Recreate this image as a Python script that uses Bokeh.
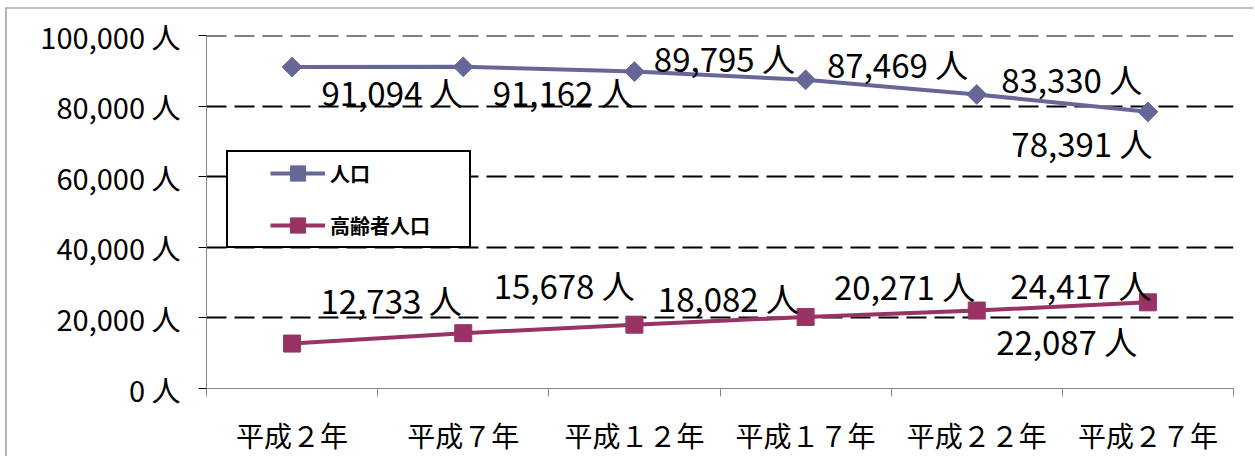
import numpy as np
from bokeh.plotting import figure
from bokeh.models import Range1d, FixedTicker, Legend, LegendItem
from bokeh.core.properties import value
from bokeh.embed import file_html
from bokeh.resources import INLINE

# ---- data ----
categories = ["平成２年", "平成７年", "平成１２年", "平成１７年", "平成２２年", "平成２７年"]
population = [91094, 91162, 89795, 87469, 83330, 78391]
elderly = [12733, 15678, 18082, 20271, 22087, 24417]
y_ticks = [0, 20000, 40000, 60000, 80000, 100000]
series_names = ["人口", "高齢者人口"]

# ---- label placement (screen px offsets from each point) ----
pop_dx = [100, 100, 90, 92, 95, -66]
pop_dy = [25, 25, -14, -16, -15, 31]
eld_dx = [99, 101, 94, 99, 90, -67]
eld_dy = [-44, -48, -27, -31, 30, -17]

FONT = "Noto Sans CJK JP"
POP_COLOR = "#666699"
ELD_COLOR = "#993366"
AXIS_GRAY = "#868686"

xs = list(range(len(categories)))

p = figure(width=1248, height=449, output_backend="svg", toolbar_location=None,
           x_range=Range1d(-0.5, len(categories) - 0.5),
           y_range=Range1d(y_ticks[0], y_ticks[-1] + 30),
           min_border_left=199, min_border_right=22,
           min_border_top=26, min_border_bottom=70)
p.styles = {"margin-left": "5px", "margin-top": "7px",
            "border-top": "2px solid #c0c0c0", "border-left": "2px solid #b4b4b4"}
p.outline_line_color = None
p.background_fill_color = "white"
p.border_fill_color = "white"

# x axis
xa = p.xaxis[0]
xa.ticker = FixedTicker(ticks=xs, minor_ticks=[i - 0.5 for i in range(len(categories) + 1)])
xa.major_label_overrides = {i: c for i, c in enumerate(categories)}
xa.major_tick_line_color = None
xa.major_tick_out = 0
xa.major_tick_in = 0
xa.minor_tick_out = 8
xa.minor_tick_in = 0
xa.minor_tick_line_color = AXIS_GRAY
xa.axis_line_color = AXIS_GRAY
xa.major_label_text_font = FONT
xa.major_label_text_font_size = "28px"
xa.major_label_text_color = "black"
xa.major_label_standoff = 18

# y axis
ya = p.yaxis[0]
ya.ticker = FixedTicker(ticks=y_ticks)
ya.major_label_overrides = {t: f"{t:,} 人" for t in y_ticks}
ya.axis_line_color = AXIS_GRAY
ya.major_tick_line_color = "black"
ya.major_tick_out = 8
ya.major_tick_in = 0
ya.minor_tick_line_color = None
ya.major_label_standoff = 18
ya.major_label_text_font = FONT
ya.major_label_text_font_size = "29px"
ya.major_label_text_color = "black"

# grid
p.xgrid.visible = False
p.ygrid.ticker = FixedTicker(ticks=y_ticks[1:])
p.ygrid.grid_line_color = "black"
p.ygrid.grid_line_width = 2
p.ygrid.grid_line_dash = "20 8"

# series
r1l = p.line(xs, population, line_color=POP_COLOR, line_width=4)
r1m = p.scatter(xs, population, marker="square", angle=np.pi / 4, size=14,
                fill_color=POP_COLOR, line_color=POP_COLOR)
r2l = p.line(xs, elderly, line_color=ELD_COLOR, line_width=4)
r2m = p.scatter(xs, elderly, marker="square", size=17,
                fill_color=ELD_COLOR, line_color=ELD_COLOR)

# data labels
p.text(x=xs, y=population, text=[f"{v:,} 人" for v in population],
       x_offset=pop_dx, y_offset=pop_dy, text_align="center", text_baseline="middle",
       text_font=value(FONT), text_font_size="33px", text_color="black")
p.text(x=xs, y=elderly, text=[f"{v:,} 人" for v in elderly],
       x_offset=eld_dx, y_offset=eld_dy, text_align="center", text_baseline="middle",
       text_font=value(FONT), text_font_size="33px", text_color="black")

legend = Legend(
    items=[LegendItem(label=series_names[0], renderers=[r1l, r1m]),
           LegendItem(label=series_names[1], renderers=[r2l, r2m])],
    location=(20, 140), glyph_width=55, glyph_height=38, label_height=38,
    label_width=137, label_standoff=5, padding=2, spacing=14, margin=0,
    border_line_color="black", border_line_width=2, border_line_alpha=1.0,
    background_fill_color="white", background_fill_alpha=1.0,
    label_text_font=FONT, label_text_font_style="bold", label_text_font_size="20px",
    label_text_color="black",
    title=" ", title_location="left", title_text_font_size="10px", title_standoff=29,
)
p.add_layout(legend)

open("out.html", "w").write(file_html(p, INLINE))
